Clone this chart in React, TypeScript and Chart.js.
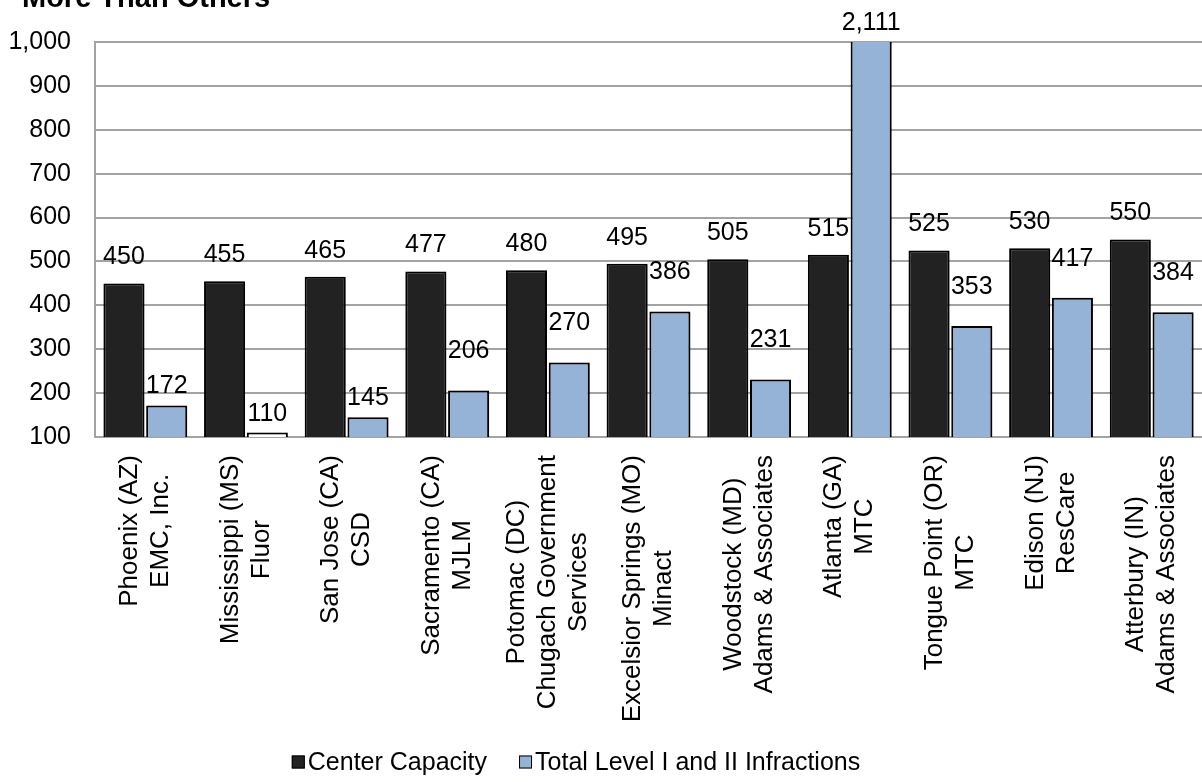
import React, { useEffect, useRef } from "react";
import { Chart, registerables } from "chart.js";

Chart.register(...registerables);

const centers: string[][] = [
  ["Phoenix (AZ)", "EMC, Inc."],
  ["Mississippi (MS)", "Fluor"],
  ["San Jose (CA)", "CSD"],
  ["Sacramento (CA)", "MJLM"],
  ["Potomac (DC)", "Chugach Government", "Services"],
  ["Excelsior Springs (MO)", "Minact"],
  ["Woodstock (MD)", "Adams & Associates"],
  ["Atlanta (GA)", "MTC"],
  ["Tongue Point (OR)", "MTC"],
  ["Edison (NJ)", "ResCare"],
  ["Atterbury (IN)", "Adams & Associates"],
];

const centerCapacity: number[] = [450, 455, 465, 477, 480, 495, 505, 515, 525, 530, 550];
const infractions: number[] = [172, 110, 145, 206, 270, 386, 231, 2111, 353, 417, 384];

const yMin = 100;
const yMax = 1000;
const yStep = 100;

const seriesNames = ["Center Capacity", "Total Level I and II Infractions"];
const titleText = "More Than Others";

const FONT = "'Liberation Sans', Arial, Helvetica, sans-serif";
const DARK = "#222222";
const BLUE = "#95B3D7";
const GRID = "#a3a3a3";

const fmt = (v: number) => v.toLocaleString("en-US");

const customPlugin = {
  id: "customDraw",
  beforeDatasetsDraw(chart: any) {
    const ctx = chart.ctx;
    ctx.save();
    ctx.shadowColor = "rgba(0,0,0,0.28)";
    ctx.shadowBlur = 3;
    ctx.shadowOffsetX = 2;
    ctx.shadowOffsetY = 1;
  },
  afterDatasetsDraw(chart: any) {
    const ctx = chart.ctx;
    ctx.restore();
    const area = chart.chartArea;
    ctx.save();
    ctx.font = `25px ${FONT}`;
    ctx.fillStyle = "#000";
    ctx.textAlign = "center";
    ctx.textBaseline = "middle";
    chart.data.datasets.forEach((ds: any, di: number) => {
      const meta = chart.getDatasetMeta(di);
      meta.data.forEach((el: any, i: number) => {
        const v = ds.data[i] as number;
        let y: number;
        if (v > yMax) {
          y = area.top - 19;
        } else if (di === 0) {
          y = el.y - 26;
        } else {
          y = el.y - (v < 200 ? 19 : 39);
        }
        ctx.fillText(fmt(v), el.x, y);
      });
    });
    ctx.restore();
  },
  afterDraw(chart: any) {
    const ctx = chart.ctx;
    const area = chart.chartArea;
    const xScale = chart.scales.x;
    ctx.save();
    // category labels
    ctx.font = `26px ${FONT}`;
    ctx.fillStyle = "#000";
    ctx.textAlign = "center";
    ctx.textBaseline = "middle";
    const lineH = 31;
    centers.forEach((lines, i) => {
      const cx = xScale.getPixelForValue(i);
      const maxW = Math.max(...lines.map((l) => ctx.measureText(l).width));
      ctx.save();
      ctx.translate(cx, area.bottom + 18 + maxW / 2);
      ctx.rotate(-Math.PI / 2);
      lines.forEach((l, li) => {
        ctx.fillText(l, 0, (li - (lines.length - 1) / 2) * lineH);
      });
      ctx.restore();
    });

    // title (cut off at top)
    ctx.font = `bold 29px ${FONT}`;
    ctx.textAlign = "left";
    ctx.textBaseline = "alphabetic";
    ctx.fillText(titleText, 22, 7);

    // legend
    ctx.font = `25px ${FONT}`;
    const box = 13;
    const gap = 3;
    const spacing = 32;
    const colors = [DARK, BLUE];
    const widths = seriesNames.map((n) => box + gap + ctx.measureText(n).width);
    const total = widths[0] + spacing + widths[1];
    let x = 576 - total / 2;
    const cy = 762;
    seriesNames.forEach((n, i) => {
      ctx.fillStyle = colors[i];
      ctx.fillRect(x, cy - box / 2, box, box);
      ctx.strokeStyle = "#000";
      ctx.lineWidth = 1;
      ctx.strokeRect(x + 0.5, cy - box / 2 + 0.5, box - 1, box - 1);
      ctx.fillStyle = "#000";
      ctx.textBaseline = "middle";
      ctx.fillText(n, x + box + gap, cy + 1);
      x += widths[i] + spacing;
    });
    ctx.restore();
  },
};

export default function App() {
  const ref = useRef<HTMLCanvasElement | null>(null);

  useEffect(() => {
    if (!ref.current) return;
    const chart = new Chart(ref.current, {
      type: "bar",
      data: {
        labels: centers.map((c) => c.join(" ")),
        datasets: [
          {
            label: seriesNames[0],
            data: centerCapacity,
            backgroundColor: DARK,
            borderColor: "#000",
            borderWidth: 2,
            categoryPercentage: 0.85,
            barPercentage: 0.96,
          },
          {
            label: seriesNames[1],
            data: infractions,
            backgroundColor: infractions.map((_, i) => (i === 1 ? "#ffffff" : BLUE)),
            borderColor: "#000",
            borderWidth: 2,
            categoryPercentage: 0.85,
            barPercentage: 0.96,
          },
        ],
      },
      options: {
        animation: false,
        responsive: false,
        devicePixelRatio: 1,
        layout: { padding: { top: 42, left: 0, right: 0, bottom: 0 } },
        plugins: {
          legend: { display: false },
          title: { display: false },
          tooltip: { enabled: false },
        },
        scales: {
          x: {
            grid: { display: false, drawTicks: false },
            border: { display: true, color: GRID, width: 2 },
            ticks: { display: false },
            afterFit: (s: any) => {
              s.height = 345;
            },
          },
          y: {
            min: yMin,
            max: yMax,
            ticks: {
              stepSize: yStep,
              color: "#000",
              font: { size: 25, family: FONT },
              padding: 24,
              callback: (v: any) => fmt(Number(v)),
            },
            grid: { color: GRID, lineWidth: 2, drawTicks: false },
            border: { display: true, color: GRID, width: 2 },
            afterFit: (s: any) => {
              s.width = 95;
            },
          },
        },
      },
      plugins: [customPlugin],
    });
    return () => chart.destroy();
  }, []);

  return (
    <div style={{ position: "absolute", left: 0, top: 0, width: 1202, height: 782, background: "#fff" }}>
      <canvas ref={ref} width={1202} height={782} style={{ display: "block" }} />
    </div>
  );
}
